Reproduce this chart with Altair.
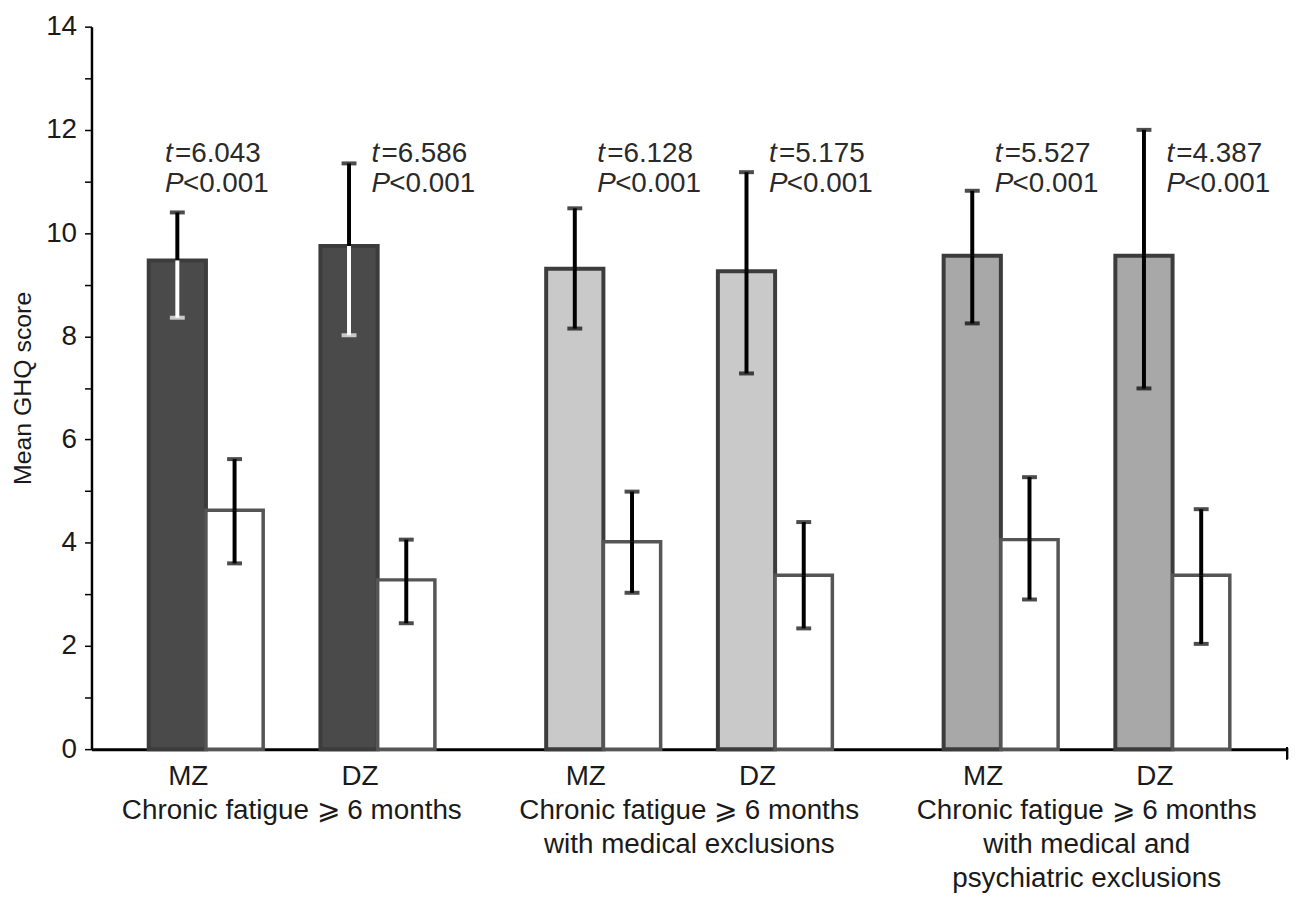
import altair as alt
import pandas as pd

groups = [
    "Chronic fatigue \u2a7e 6 months",
    "Chronic fatigue \u2a7e 6 months\nwith medical exclusions",
    "Chronic fatigue \u2a7e 6 months\nwith medical and\npsychiatric exclusions",
]
twins = ["MZ", "DZ"]

# affected (fatigued) twins
aff_mz_mean = [9.47, 9.31, 9.56]
aff_mz_hi = [10.40, 10.48, 10.82]
aff_mz_lo = [8.36, 8.15, 8.25]
aff_dz_mean = [9.75, 9.26, 9.56]
aff_dz_hi = [11.35, 11.18, 12.00]
aff_dz_lo = [8.02, 7.28, 6.99]
# unaffected co-twins
un_mz_mean = [4.63, 4.02, 4.06]
un_mz_hi = [5.62, 4.99, 5.27]
un_mz_lo = [3.60, 3.03, 2.90]
un_dz_mean = [3.28, 3.37, 3.37]
un_dz_hi = [4.06, 4.40, 4.65]
un_dz_lo = [2.44, 2.34, 2.04]

t_mz = [6.043, 6.128, 5.527]
t_dz = [6.586, 5.175, 4.387]
p_text = "<0.001"

rows = []
for gi, g in enumerate(groups):
    for twin, st, m, hi, lo in [
        ("MZ", "a", aff_mz_mean[gi], aff_mz_hi[gi], aff_mz_lo[gi]),
        ("MZ", "u", un_mz_mean[gi], un_mz_hi[gi], un_mz_lo[gi]),
        ("DZ", "a", aff_dz_mean[gi], aff_dz_hi[gi], aff_dz_lo[gi]),
        ("DZ", "u", un_dz_mean[gi], un_dz_hi[gi], un_dz_lo[gi]),
    ]:
        rows.append({
            "group": g, "gi": gi, "twin": twin, "status": st,
            "slot": f"{twin}-{st}", "mean": m, "hi": hi, "lo": lo,
            "shade": f"g{gi}" if st == "a" else "none",
        })
df = pd.DataFrame(rows)

ann_rows = []
for gi, g in enumerate(groups):
    ann_rows.append({"group": g, "gi": gi, "twin": "MZ", "slot": "MZ-u", "t": t_mz[gi], "p": p_text})
    ann_rows.append({"group": g, "gi": gi, "twin": "DZ", "slot": "DZ-u", "t": t_dz[gi], "p": p_text})
ann_df = pd.DataFrame(ann_rows)

W, H = 1203, 727
FONT = "Liberation Sans"

xenc = alt.X(
    "group:N",
    sort=groups,
    scale=alt.Scale(domain=groups, paddingInner=0.28, paddingOuter=0.144),
    axis=alt.Axis(
        title=None, labelAngle=0, ticks=False, domainColor="black", domainWidth=3,
        labelFont=FONT, labelFontSize=28, labelColor="#1a1a1a", labelPadding=48,
        labelLineHeight=34, labelBaseline="top", labelLimit=0,
        labelExpr="split(datum.label, '\\n')",
    ),
)
xoff = alt.XOffset(
    "slot:N",
    scale=alt.Scale(domain=["MZ-a", "MZ-u", "gap", "DZ-a", "DZ-u"], paddingInner=0, paddingOuter=0),
)
yscale = alt.Scale(domain=[0, 14], nice=False)
yaxis = alt.Axis(
    title="Mean GHQ score", titleFont=FONT, titleFontSize=25, titleFontWeight="normal",
    titleColor="#1a1a1a", titlePadding=10,
    values=[i * 0.5 for i in range(29)],
    labelExpr="datum.value % 2 == 0 ? datum.label : ''",
    labelFont=FONT, labelFontSize=28, labelColor="#1a1a1a", labelPadding=8,
    tickColor="black", tickWidth=1.5, tickSize=7,
    domainColor="black", domainWidth=2.5, grid=False,
)

base = alt.Chart(df).encode(x=xenc, xOffset=xoff)

bars = base.mark_bar().encode(
    y=alt.Y("mean:Q", scale=yscale, axis=yaxis),
    fill=alt.Fill(
        "shade:N",
        scale=alt.Scale(domain=["g0", "g1", "g2", "none"],
                        range=["#4a4a4a", "#c9c9c9", "#a8a8a8", "#ffffff"]),
        legend=None,
    ),
    stroke=alt.condition("datum.status == 'u'", alt.value("#555555"), alt.value("#3c3c3c")),
    strokeWidth=alt.condition("datum.status == 'u'", alt.value(3.5), alt.value(4)),
)

up_rule = base.mark_rule(color="black", strokeWidth=4).encode(y="mean:Q", y2="hi:Q")
lo_color = alt.condition("datum.gi == 0 && datum.status == 'a'", alt.value("white"), alt.value("black"))
lo_rule = base.mark_rule(strokeWidth=4).encode(y="lo:Q", y2="mean:Q", color=lo_color)
up_cap = base.mark_tick(color="black", thickness=4, size=15).encode(y="hi:Q")
lo_cap = base.mark_tick(thickness=4, size=15).encode(y="lo:Q", color=lo_color)

twin_lbl = alt.Chart(df).transform_filter("datum.status == 'a'").mark_text(
    font=FONT, fontSize=28, color="#1a1a1a", baseline="top", dx=11
).encode(x=xenc, xOffset=xoff, y=alt.value(H + 14), text="twin:N")


def ann_layer(filter_expr, dx):
    b = alt.Chart(ann_df).transform_filter(filter_expr).transform_calculate(
        t_rest="'=' + format(datum.t, '.3f')"
    ).encode(x=xenc, xOffset=xoff)
    kw = dict(font=FONT, fontSize=28, color="#2a2a2a", align="left", baseline="alphabetic")
    return alt.layer(
        b.mark_text(dx=dx, fontStyle="italic", **kw).encode(y=alt.value(136), text=alt.value("t")),
        b.mark_text(dx=dx + 10, **kw).encode(y=alt.value(136), text="t_rest:N"),
        b.mark_text(dx=dx, fontStyle="italic", **kw).encode(y=alt.value(166), text=alt.value("P")),
        b.mark_text(dx=dx + 18, **kw).encode(y=alt.value(166), text="p:N"),
    )


ann1 = ann_layer("datum.gi == 0 && datum.twin == 'MZ'", -70)
ann2 = ann_layer("!(datum.gi == 0 && datum.twin == 'MZ')", -35)

end_tick = alt.Chart(df).mark_rule(color="black", strokeWidth=2).encode(
    x=alt.value(W), y=alt.value(H - 2), y2=alt.value(H + 10)
)

chart = alt.layer(bars, up_rule, lo_rule, up_cap, lo_cap, twin_lbl, ann1, ann2, end_tick).properties(
    width=W, height=H,
    background="white",
    autosize=alt.AutoSizeParams(type="none"),
    padding={"left": 84, "top": 16, "right": 7, "bottom": 146},
).configure_view(stroke=None, strokeWidth=0)

chart.save("out.html", embed_options={"renderer": "svg", "actions": False})
